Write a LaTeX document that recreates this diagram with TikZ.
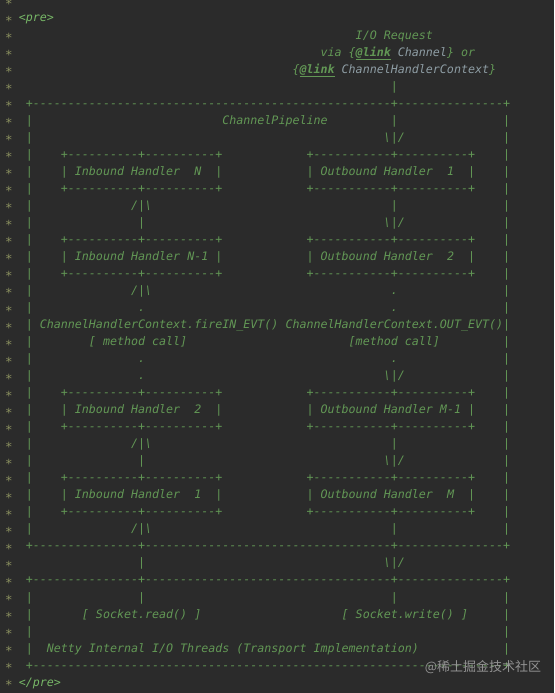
\documentclass[tikz,border=0pt]{standalone}
\usepackage{fontspec}
\setmonofont[ItalicFont={DejaVu Sans Mono Oblique},BoldItalicFont={DejaVu Sans Mono Bold Oblique}]{DejaVu Sans Mono}
\newfontfamily\cjkfont{Noto Sans CJK SC}
\definecolor{bgc}{HTML}{2B2B2B}
\definecolor{art}{HTML}{629755}
\definecolor{star}{HTML}{8A8F5E}
\definecolor{tag}{HTML}{77B767}
\definecolor{lval}{HTML}{8E9DA4}
\definecolor{wm}{HTML}{A5A5A5}
\ExplSyntaxOn
\NewDocumentCommand\rep{mm}{\prg_replicate:nn{#1}{#2}}
\ExplSyntaxOff
\newcommand\bsl{\textbackslash}
\tikzset{txt/.style={anchor=base west,inner sep=0pt,outer sep=0pt,font=\ttfamily\itshape\fontsize{11.66}{14}\selectfont\frenchspacing},
  startxt/.style={anchor=base,inner sep=0pt,outer sep=0pt,font=\ttfamily\itshape\fontsize{12.5}{14}\selectfont}}
\newcommand\seg[4][art]{\node[txt,text=#1] (r#2c#3) at ({25.8+7.02*(#3)},{-22-17.03*(#2)}) {#4};}
\newcommand\sides[1]{\seg{#1}{0}{|}\seg{#1}{68}{|}}
\newcommand\boxes[1]{\sides{#1}\seg{#1}{5}{+\rep{10}{-}+\rep{10}{-}+}\seg{#1}{40}{+\rep{11}{-}+\rep{10}{-}+}}
\newcommand\hrow[5]{\sides{#1}\seg{#1}{5}{|}\seg{#1}{7}{Inbound Handler}\seg{#1}{#2}{#3}\seg{#1}{27}{|}\seg{#1}{40}{|}\seg{#1}{42}{Outbound Handler}\seg{#1}{#4}{#5}\seg{#1}{63}{|}}
\begin{document}
\begin{tikzpicture}[x=1pt,y=1pt]
\fill[bgc] (0,0) rectangle (554,-693);
\useasboundingbox (0,0) rectangle (554,-693);
\foreach \r in {-1,...,39} {\node[startxt,text=star] (star\r) at (9,{-25.5-17.03*(\r)}) {*};}
\seg[tag]{0}{-1}{<pre>}
\seg{1}{47}{I/O Request}
\seg{2}{42}{via}\seg{2}{46}{\{}\seg{2}{47}{\underline{\textbf{@link}}}\seg[lval]{2}{53}{Channel}\seg{2}{60}{\}}\seg{2}{62}{or}
\seg{3}{38}{\{}\seg{3}{39}{\underline{\textbf{@link}}}\seg[lval]{3}{45}{ChannelHandlerContext}\seg{3}{66}{\}}
\seg{4}{52}{|}
\seg{5}{0}{+\rep{51}{-}+\rep{15}{-}+}
\sides{6}\seg{6}{28}{ChannelPipeline}\seg{6}{52}{|}
\sides{7}\seg{7}{51}{\bsl|/}
\boxes{8}
\hrow{9}{24}{N}{60}{1}
\boxes{10}
\sides{11}\seg{11}{15}{/|\bsl}\seg{11}{52}{|}
\sides{12}\seg{12}{16}{|}\seg{12}{51}{\bsl|/}
\boxes{13}
\hrow{14}{23}{N-1}{60}{2}
\boxes{15}
\sides{16}\seg{16}{15}{/|\bsl}\seg{16}{52}{.}
\sides{17}\seg{17}{16}{.}\seg{17}{52}{.}
\sides{18}\seg{18}{2}{ChannelHandlerContext.fireIN\_EVT()}\seg{18}{37}{ChannelHandlerContext.OUT\_EVT()}
\sides{19}\seg{19}{9}{[ method call]}\seg{19}{46}{[method call]}
\sides{20}\seg{20}{16}{.}\seg{20}{52}{.}
\sides{21}\seg{21}{16}{.}\seg{21}{51}{\bsl|/}
\boxes{22}
\hrow{23}{24}{2}{59}{M-1}
\boxes{24}
\sides{25}\seg{25}{15}{/|\bsl}\seg{25}{52}{|}
\sides{26}\seg{26}{16}{|}\seg{26}{51}{\bsl|/}
\boxes{27}
\hrow{28}{24}{1}{60}{M}
\boxes{29}
\sides{30}\seg{30}{15}{/|\bsl}\seg{30}{52}{|}
\seg{31}{0}{+\rep{15}{-}+\rep{35}{-}+\rep{15}{-}+}
\seg{32}{16}{|}\seg{32}{51}{\bsl|/}
\seg{33}{0}{+\rep{15}{-}+\rep{35}{-}+\rep{15}{-}+}
\sides{34}\seg{34}{16}{|}\seg{34}{52}{|}
\sides{35}\seg{35}{8}{[ Socket.read() ]}\seg{35}{45}{[ Socket.write() ]}
\sides{36}
\sides{37}\seg{37}{3}{Netty Internal I/O Threads (Transport Implementation)}
\seg{38}{0}{+\rep{67}{-}+}
\seg[tag]{39}{-1}{</pre>}
\node[font=\cjkfont\fontsize{13}{15}\selectfont,text=wm,opacity=0.85,inner sep=0pt] (wmk) at (483,-667) {@稀土掘金技术社区};
\end{tikzpicture}
\end{document}
